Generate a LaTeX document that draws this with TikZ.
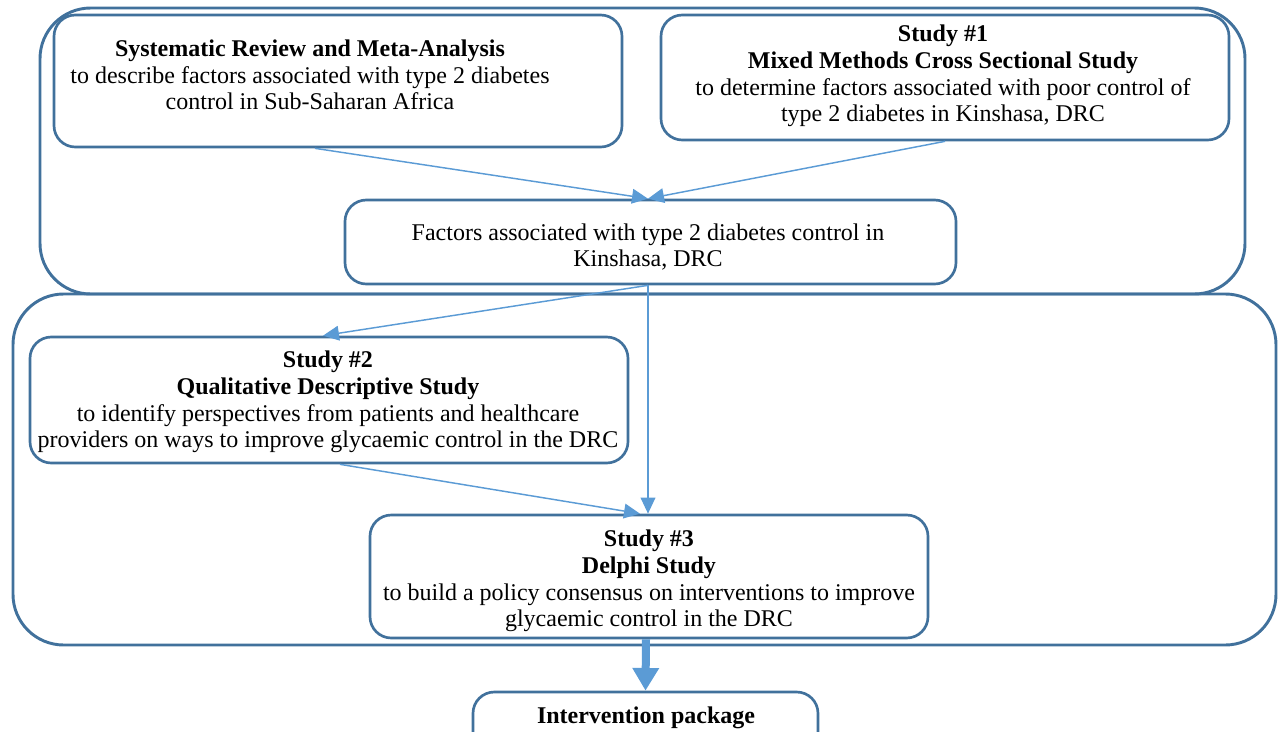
\documentclass[tikz,border=0pt]{standalone}
\usepackage{fontspec}
\setmainfont{Liberation Serif}
\usetikzlibrary{arrows.meta,calc}
\definecolor{boxblue}{HTML}{41719C}
\definecolor{arrblue}{HTML}{5B9BD5}
\tikzset{
  outerbox/.style={draw=boxblue, line width=2.2pt, rounded corners=38pt},
  stepbox/.style={draw=boxblue, line width=2pt, rounded corners=16pt, fill=white, inner sep=0pt},
  txt/.style={align=center, font=\fontsize{18}{20}\selectfont, inner sep=0pt},
  conn/.style={draw=arrblue, line width=1.1pt, -{Triangle[length=12pt,width=11pt]}},
  thickconn/.style={draw=arrblue, line width=6pt, -{Triangle[length=17pt,width=19pt]}}
}
\begin{document}
\begin{tikzpicture}[x=0.75pt,y=-0.75pt]
\useasboundingbox (0,0) rectangle (1282,732);
% outer groups
\draw[outerbox] (40,8) rectangle (1245,294);
\draw[outerbox] (13,294) rectangle (1276,645);
% boxes
\node[stepbox, minimum width=568*0.75pt, minimum height=132*0.75pt] (sr) at (338,81) {};
\node[stepbox, minimum width=568*0.75pt, minimum height=125*0.75pt] (s1) at (945,77.5) {};
\node[stepbox, minimum width=611*0.75pt, minimum height=84*0.75pt] (fac) at (650.5,242) {};
\node[stepbox, minimum width=598*0.75pt, minimum height=126*0.75pt] (s2) at (329,400) {};
\node[stepbox, minimum width=558*0.75pt, minimum height=123*0.75pt] (s3) at (649,576.5) {};
\node[stepbox, minimum width=345*0.75pt, minimum height=70*0.75pt] (ip) at (645.5,727) {};
% texts
\node[txt] (srt) at (310,75) {\textbf{Systematic Review and Meta-Analysis}\\to describe factors associated with type 2 diabetes\\control in Sub-Saharan Africa};
\node[txt] (s1t) at (943,76) {\textbf{Study \#1}\\\textbf{Mixed Methods Cross Sectional Study}\\to determine factors associated with poor control of\\type 2 diabetes in Kinshasa, DRC};
\node[txt] (fact) at (648,247) {Factors associated with type 2 diabetes control in\\Kinshasa, DRC};
\node[txt] (s2t) at (328,402) {\textbf{Study \#2}\\\textbf{Qualitative Descriptive Study}\\to identify perspectives from patients and healthcare\\providers on ways to improve glycaemic control in the DRC};
\node[txt] (s3t) at (649,581) {\textbf{Study \#3}\\\textbf{Delphi Study}\\to build a policy consensus on interventions to improve\\glycaemic control in the DRC};
\node[txt] (ipt) at (646,718) {\textbf{Intervention package}};
% connectors
\draw[conn] ($(sr.south)+(-23,0)$) -- ($(fac.north)+(-2.5,0)$);
\draw[conn] (s1.south) -- ($(fac.north)+(-2.5,0)$);
\draw[conn] ($(fac.south)+(-2.5,0)$) -- ($(s2.north)+(-6,0)$);
\draw[conn] ($(fac.south)+(-2.5,0)$) -- ($(s3.north)+(-1,0)$);
\draw[conn] ($(s2.south)+(11,0)$) -- ($(s3.north)+(-9,0)$);
\draw[thickconn] ($(s3.south)+(-3,0)$) -- ($(ip.north)+(0,0)$);
\end{tikzpicture}
\end{document}
